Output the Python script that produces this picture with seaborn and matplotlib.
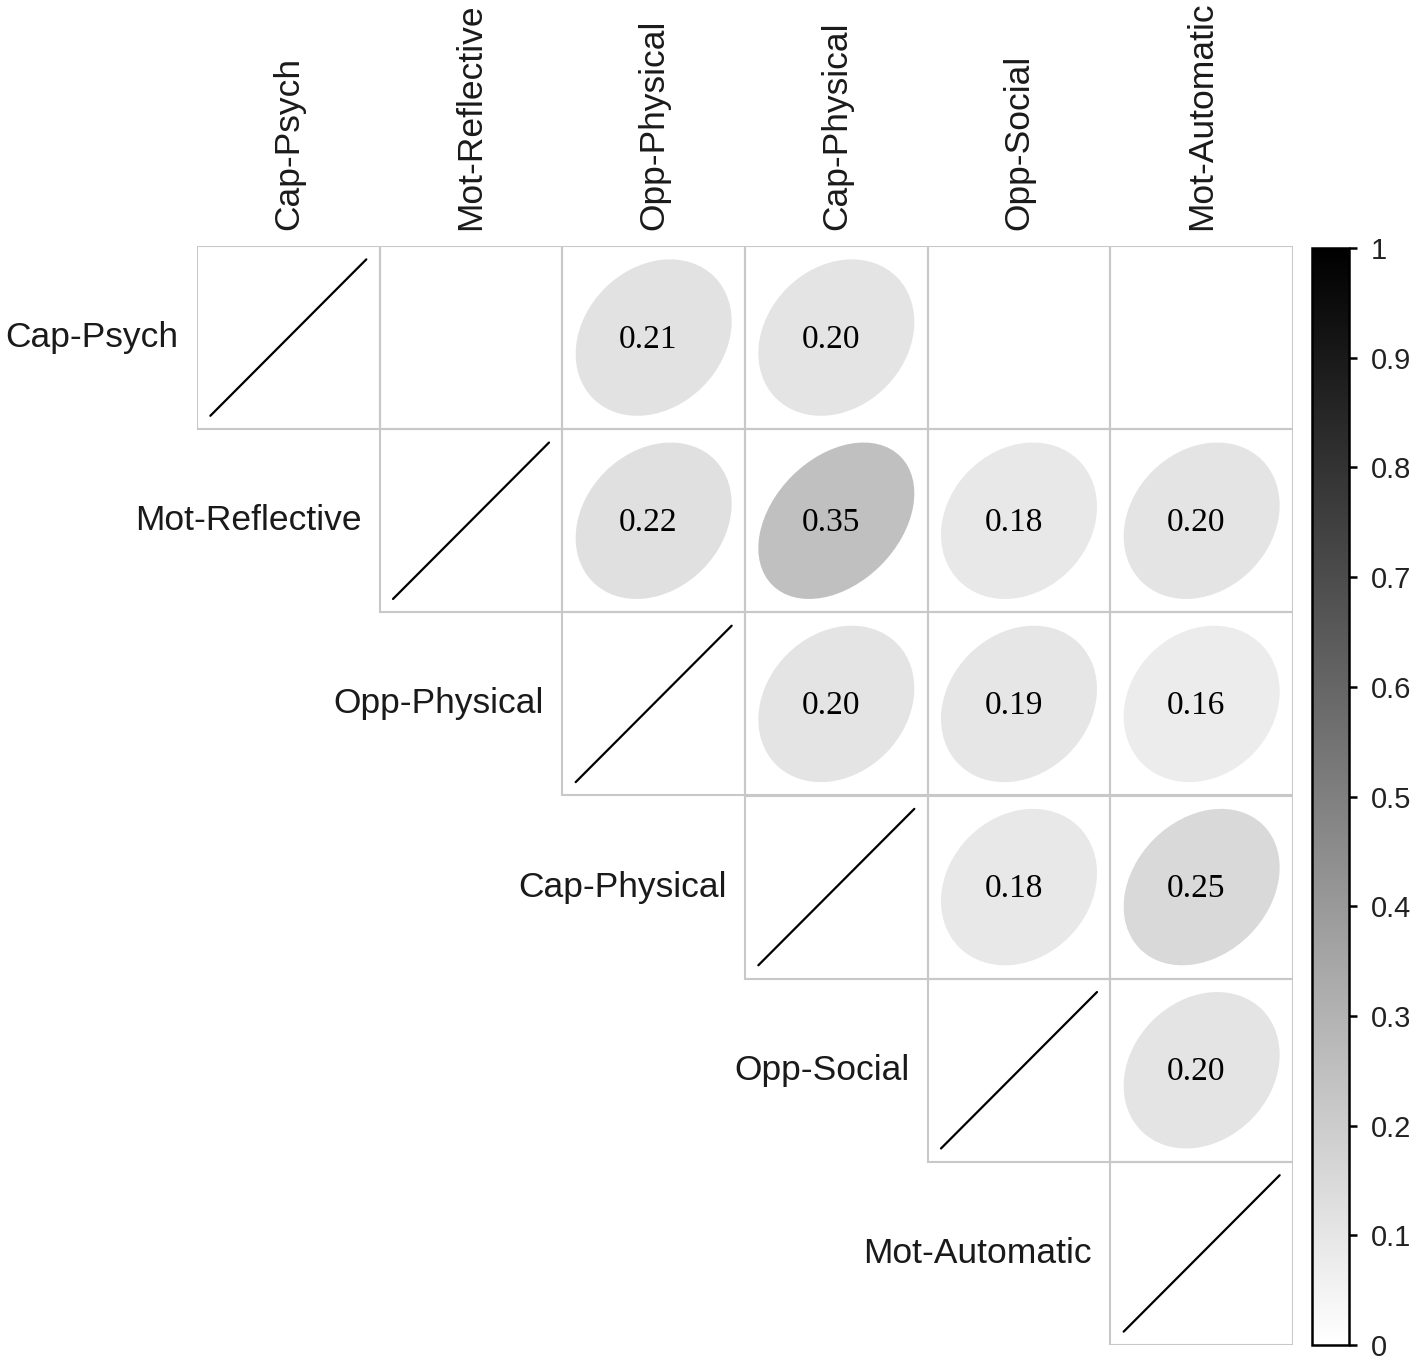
import numpy as np
import pandas as pd
import matplotlib
matplotlib.use('Agg')
from matplotlib import pyplot as plt
from matplotlib.patches import Ellipse, Rectangle
from matplotlib.colors import LinearSegmentedColormap, Normalize, PowerNorm
from matplotlib.cm import ScalarMappable
import seaborn as sns

labels = ['Cap-Psych', 'Mot-Reflective', 'Opp-Physical',
          'Cap-Physical', 'Opp-Social', 'Mot-Automatic']

# upper triangle, row by row (nan = not shown)
row_cap_psych = [1.00, np.nan, 0.21, 0.20, np.nan, np.nan]
row_mot_reflective = [np.nan, 1.00, 0.22, 0.35, 0.18, 0.20]
row_opp_physical = [np.nan, np.nan, 1.00, 0.20, 0.19, 0.16]
row_cap_physical = [np.nan, np.nan, np.nan, 1.00, 0.18, 0.25]
row_opp_social = [np.nan, np.nan, np.nan, np.nan, 1.00, 0.20]
row_mot_automatic = [np.nan, np.nan, np.nan, np.nan, np.nan, 1.00]

cbar_ticks = [0, 0.1, 0.2, 0.3, 0.4, 0.5, 0.6, 0.7, 0.8, 0.9, 1]
cbar_labels = ['0', '0.1', '0.2', '0.3', '0.4', '0.5', '0.6', '0.7', '0.8', '0.9', '1']

corr = pd.DataFrame([row_cap_psych, row_mot_reflective, row_opp_physical,
                     row_cap_physical, row_opp_social, row_mot_automatic],
                    index=labels, columns=labels)
n = len(labels)

sns.set_theme(style='white')
plt.rcParams['font.family'] = ['Liberation Sans', 'DejaVu Sans']

grays = LinearSegmentedColormap.from_list('wb', ['#ffffff', '#000000'])
ell_norm = PowerNorm(gamma=1.5, vmin=0, vmax=0.886)

fig = plt.figure(figsize=(14.16, 13.62), dpi=100)
W, H = 1416, 1362
ax = fig.add_axes([197 / W, (H - 1345) / H, 1096 / W, 1099 / H])
cax = fig.add_axes([1312 / W, (H - 1345) / H, 37 / W, 1097 / H])

# white background cells via seaborn, borders only for the upper triangle
mask = np.tril(np.ones((n, n), dtype=bool), k=-1)
sns.heatmap(np.zeros((n, n)), mask=mask, ax=ax, cmap=['white'], cbar=False,
            linewidths=0, xticklabels=False, yticklabels=False)
ax.set_xlim(0, n)
ax.set_ylim(n, 0)
for sp in ax.spines.values():
    sp.set_visible(False)

for i in range(n):
    for j in range(i, n):
        ax.add_patch(Rectangle((j, i), 1, 1, facecolor='none',
                               edgecolor='#c8c8c8', lw=1.5, zorder=1))

s = 0.427
for i in range(n):
    for j in range(n):
        r = corr.iloc[i, j]
        if np.isnan(r):
            continue
        cx, cy = j + 0.5, i + 0.5
        if i == j:
            ax.plot([cx - s, cx + s], [cy + s, cy - s], color='black', lw=1.6,
                    solid_capstyle='round', zorder=3)
            continue
        e = Ellipse((cx, cy), width=2 * s * np.sqrt(1 + r),
                    height=2 * s * np.sqrt(1 - r), angle=-45,
                    facecolor=grays(ell_norm(r)), edgecolor='none', zorder=2)
        ax.add_patch(e)
        ax.text(cx - 0.03, cy + 0.01, f'{r:.2f}', ha='center', va='center',
                fontsize=24, family='Liberation Serif', color='black', zorder=4)

# labels
for i, lab in enumerate(labels):
    ax.text(i - 0.1, i + 0.5, lab, ha='right', va='center', fontsize=25.5,
            color='#1a1a1a')
    ax.text(i + 0.5, -0.09, lab, ha='center', va='bottom', rotation=90,
            fontsize=25.5, color='#1a1a1a')

# colour bar
sm = ScalarMappable(norm=Normalize(0, 1), cmap=grays)
cb = fig.colorbar(sm, cax=cax, ticks=cbar_ticks)
cb.ax.set_yticklabels(cbar_labels)
cb.outline.set_edgecolor('black')
cb.outline.set_linewidth(1.8)
cb.ax.tick_params(axis='y', right=True, direction='out', length=6, width=1.8,
                  color='black', labelsize=21, pad=10, labelcolor='#222222')

fig.savefig('out.png', dpi=100)
